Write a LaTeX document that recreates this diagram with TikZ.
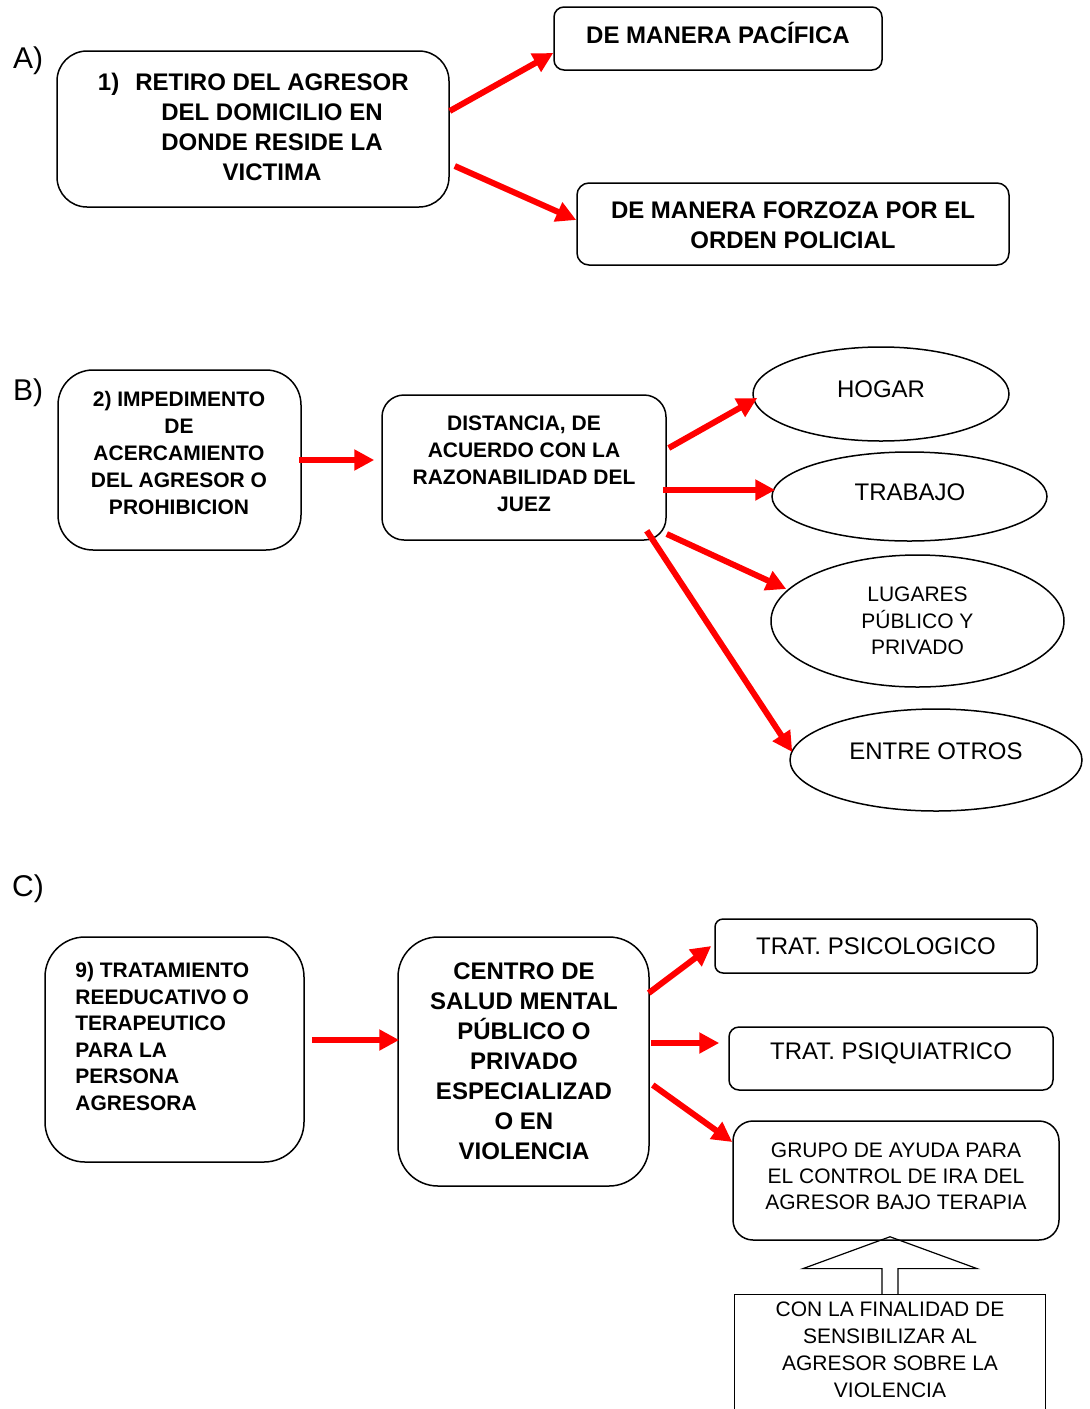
\documentclass[tikz,border=0pt]{standalone}
\usepackage{fontspec}
\setmainfont{Liberation Sans}
\usetikzlibrary{arrows.meta,calc,shapes.geometric}
\begin{document}
\begin{tikzpicture}[x=0.5pt,y=-0.5pt,
  rbox/.style={draw=black,line width=0.75pt,rounded corners=#1,inner sep=0pt},
  oval/.style={draw=black,line width=0.75pt,ellipse,inner sep=0pt},
  txt/.style={inner sep=0pt,align=center},
  bA/.style={font=\bfseries\fontsize{12}{15}\selectfont},
  bB/.style={font=\bfseries\fontsize{10.5}{13.5}\selectfont},
  bC/.style={font=\bfseries\fontsize{10.5}{13.3}\selectfont},
  rA/.style={font=\fontsize{12}{15}\selectfont},
  rB/.style={font=\fontsize{10.5}{13.2}\selectfont},
  lbl/.style={inner sep=0pt,font=\fontsize{15}{18}\selectfont},
  redarrow/.style={draw=red,line width=3pt,-{Triangle[length=10pt,width=10pt]}},
  block/.style={draw=black,line width=0.6pt,line join=miter}
]
\useasboundingbox (0,0) rectangle (1090,1409);

% ---------- A ----------
\node[lbl] (labA) at (28,61) {A)};
\node[rbox=15pt,minimum width=196pt,minimum height=78pt] (a1) at (253,129) {};
\node[txt,bA] (ta1) at (272,126.5) {\llap{1)\hspace{8pt}}RETIRO DEL AGRESOR\\DEL DOMICILIO EN\\DONDE RESIDE LA\\VICTIMA};
\node[rbox=5pt,minimum width=164pt,minimum height=31.5pt] (pac) at (718,38.5) {};
\node[txt,bA] (tpac) at (718,33) {DE MANERA PACÍFICA};
\node[rbox=6pt,minimum width=216pt,minimum height=41pt] (forz) at (793,224) {};
\node[txt,bA] (tforz) at (793,225) {DE MANERA FORZOZA POR EL\\ORDEN POLICIAL};
\draw[redarrow] ($(a1.east)+(0,-18)$) -- ($(pac.west)+(0,14.5)$);
\draw[redarrow] ($(a1.east)+(5,37)$) -- ($(forz.west)+(0,-4)$);

% ---------- B ----------
\node[lbl] (labB) at (28,393) {B)};
\node[rbox=17.5pt,minimum width=121.5pt,minimum height=90pt] (b1) at (179.5,460) {};
\node[txt,bB] (tb1) at (179,453) {2) IMPEDIMENTO\\DE\\ACERCAMIENTO\\DEL AGRESOR O\\PROHIBICION};
\node[rbox=11pt,minimum width=142pt,minimum height=72.5pt] (b2) at (524,467.5) {};
\node[txt,bB] (tb2) at (524,464) {DISTANCIA, DE\\ACUERDO CON LA\\RAZONABILIDAD DEL\\JUEZ};
\draw[redarrow] ($(b1.east)+(-3,0)$) -- ($(b2.west)+(-7,-7.5)$);

\node[oval,minimum width=128pt,minimum height=47pt] (hogar) at (881,394) {};
\node[txt,rA] (thogar) at (881,389) {HOGAR};
\node[oval,minimum width=137.5pt,minimum height=44.5pt] (trabajo) at (909.5,496.5) {};
\node[txt,rA] (ttrabajo) at (910,492) {TRABAJO};
\node[oval,minimum width=146.5pt,minimum height=66pt] (lugares) at (917.5,621) {};
\node[txt,rB] (tlugares) at (917.5,621) {LUGARES\\PÚBLICO Y\\PRIVADO};
\node[oval,minimum width=146pt,minimum height=51pt] (entre) at (936,760) {};
\node[txt,rA] (tentre) at (936,751) {ENTRE OTROS};

\draw[redarrow] ($(b2.east)+(2,-19.5)$) -- ($(hogar.west)+(5,4)$);
\draw[redarrow] ($(b2.east)+(-4,22.5)$) -- ($(trabajo.west)+(4,-6.5)$);
\draw[redarrow] ($(b2.east)+(0,66.5)$) -- ($(lugares.west)+(16,-32)$);
\draw[redarrow] ($(b2.south east)+(-20,-10)$) -- ($(entre.west)+(3,-8)$);

% ---------- C ----------
\node[lbl] (labC) at (28,889) {C)};
\node[rbox=20pt,minimum width=129.5pt,minimum height=112.5pt] (c1) at (174.5,1049.5) {};
\node[inner sep=0pt,align=left,anchor=west,bC] (tc1) at (75,1036.5) {9) TRATAMIENTO\\REEDUCATIVO O\\TERAPEUTICO\\PARA LA\\PERSONA\\AGRESORA};
\node[rbox=20pt,minimum width=125.5pt,minimum height=124.5pt] (c2) at (523.5,1061.5) {};
\node[txt,bA] (tc2) at (524,1061.5) {CENTRO DE\\SALUD MENTAL\\PÚBLICO O\\PRIVADO\\ESPECIALIZAD\\O EN\\VIOLENCIA};
\draw[redarrow] ($(c1.east)+(7,-9.5)$) -- ($(c2.west)+(2,-21.5)$);

\node[rbox=4pt,minimum width=161pt,minimum height=27pt] (psico) at (876,946) {};
\node[txt,rA] (tpsico) at (876,946) {TRAT. PSICOLOGICO};
\node[rbox=5pt,minimum width=162pt,minimum height=31.5pt] (psiq) at (891,1058.5) {};
\node[txt,rA] (tpsiq) at (891,1053) {TRAT. PSIQUIATRICO};
\node[rbox=10pt,minimum width=163pt,minimum height=59.5pt] (grupo) at (896,1180.5) {};
\node[txt,font=\fontsize{10.5}{13}\selectfont] (tgrupo) at (896,1176) {GRUPO DE AYUDA PARA\\EL CONTROL DE IRA DEL\\AGRESOR BAJO TERAPIA};

\draw[redarrow] ($(c2.east)+(-1,-68.5)$) -- ($(psico.west)+(-3,0)$);
\draw[redarrow] ($(c2.east)+(1,-18.5)$) -- ($(psiq.west)+(-9,-15.5)$);
\draw[redarrow] ($(c2.east)+(3,23.5)$) -- ($(grupo.west)+(0,-38.5)$);

% bottom box (runs past the page edge)
\node[inner sep=0pt,minimum width=155pt,minimum height=57pt] (fin) at (890,1352) {};
\draw[black,line width=0.75pt] (fin.south west) -- (fin.north west) -- (fin.north east) -- (fin.south east);
\node[txt,font=\fontsize{10.5}{13.5}\selectfont] (tfin) at (890,1350) {CON LA FINALIDAD DE\\SENSIBILIZAR AL\\AGRESOR SOBRE LA\\VIOLENCIA};

% block arrow from bottom box up to grupo
\coordinate (tip) at ($(grupo.south)+(-6,-4)$);
\draw[block] ($(fin.north)+(-8,0)$) -- ++(0,-26) -- ++(-79,0) -- (tip)
  -- ($(fin.north)+(87,-26)$) -- ++(-79,0) -- ($(fin.north)+(8,0)$);
\end{tikzpicture}
\end{document}
